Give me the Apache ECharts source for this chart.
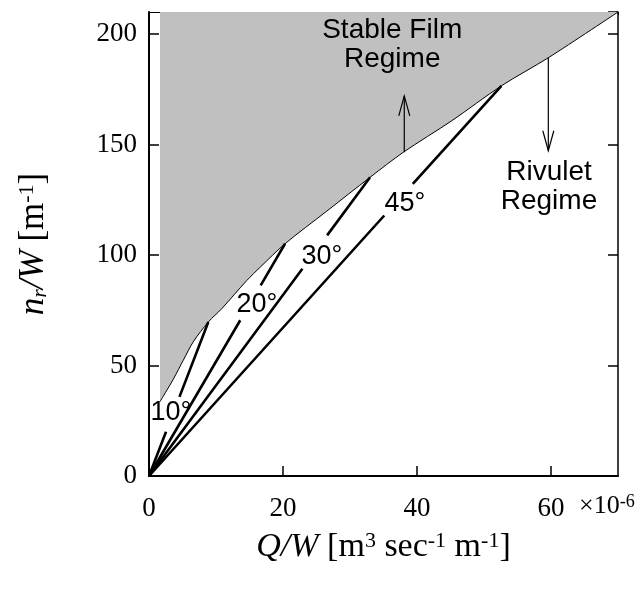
<!DOCTYPE html>
<html>
<head>
<meta charset="utf-8">
<script src="https://cdn.jsdelivr.net/npm/echarts@6/dist/echarts.min.js"></script>
<style>html,body{margin:0;padding:0;background:#fff;}#c{width:639px;height:594px;}</style>
</head>
<body>
<div id="c"></div>
<script>
// ---- data ----
const xTicks = [0, 20, 40, 60];
const yTicks = [0, 50, 100, 150, 200];
const boundaryX = [1.64, 2.6, 3.63, 5.12, 6.6, 8.85, 10.85, 14.6, 16.6, 20.3, 26.5, 33.0, 37.95, 45.2, 52.6, 59.66, 70];
const boundaryY = [33.6, 38.5, 43.8, 52.4, 60.7, 69.7, 75.7, 88.5, 94.5, 105.1, 119.8, 135.2, 146.5, 160.8, 176.6, 189.4, 210];
const angleNames = ['10°', '20°', '30°', '45°'];
const angleEndX = [8.85, 20.3, 33.0, 52.6];
const angleEndY = [69.7, 105.1, 135.2, 176.6];
const angleGapLo = [20.0, 70.5, 93.8, 117.9];
const angleGapHi = [35.8, 86.3, 108.9, 132.2];
const angleLabelX = [3.28, 16.1, 25.8, 38.2];
const angleLabelY = [28.9, 77.7, 99.2, 123.3];
const regionNames = ['Stable Film\nRegime', 'Rivulet\nRegime'];
const regionX = [36.3, 59.7];
const regionY = [195.3, 130.7];
const arrowX = [38.1, 59.6];
const arrowFrom = [146.5, 189.4];
const arrowTo = [172, 147.2];

// ---- build ----
const boundaryData = boundaryX.map((x, i) => [x, boundaryY[i]]);
const angleSeries = angleNames.map((n, i) => {
  const s = angleEndY[i] / angleEndX[i];
  const lo = angleGapLo[i], hi = angleGapHi[i];
  return {
    type: 'line', name: n, symbol: 'none', silent: true, z: 5,
    connectNulls: false,
    lineStyle: { color: '#000', width: 2.6 },
    data: [[0, 0], [lo / s, lo], [(lo + hi) / 2 / s, null], [hi / s, hi], [angleEndX[i], angleEndY[i]]]
  };
});

const serif = 'Liberation Serif';
const sans = 'Liberation Sans';
const plainLabel = { show: true, position: 'inside', formatter: p => p.name, color: '#000',
  textBorderWidth: 0, textBorderColor: 'transparent', textShadowBlur: 0, opacity: 1,
  align: 'center', verticalAlign: 'middle', fontFamily: sans };

const option = {
  animation: false,
  backgroundColor: '#fff',
  grid: { left: 149, right: 21, top: 12, bottom: 118, containLabel: false },
  xAxis: [{
    type: 'value', min: 0, max: 70, interval: 20, position: 'bottom',
    axisLine: { onZero: false, lineStyle: { color: '#000', width: 2 } },
    axisTick: { inside: true, length: 10, lineStyle: { color: '#000', width: 1.5 } },
    splitLine: { show: false },
    axisLabel: { color: '#000', fontFamily: serif, fontSize: 27, margin: 19, showMaxLabel: false,
      formatter: v => xTicks.includes(v) ? String(v) : '' },
    name: '{i|Q/W} [m{sup|3} sec{sup|-1} m{sup|-1}]',
    nameLocation: 'middle', nameGap: 54,
    nameTextStyle: {
      color: '#000', fontFamily: serif, fontSize: 34,
      rich: {
        i: { fontFamily: serif, fontStyle: 'italic', fontSize: 34, color: '#000' },
        sup: { fontFamily: serif, fontSize: 22, color: '#000', verticalAlign: 'top' }
      }
    }
  }, {
    type: 'value', min: 0, max: 70, interval: 20, position: 'top',
    axisLine: { onZero: false, lineStyle: { color: '#000', width: 1 } },
    axisTick: { inside: true, length: 3, lineStyle: { color: '#000', width: 1 } },
    axisLabel: { show: false }, splitLine: { show: false }
  }],
  yAxis: [{
    type: 'value', min: 0, max: 210, interval: 50, position: 'left',
    axisLine: { onZero: false, lineStyle: { color: '#000', width: 2 } },
    axisTick: { inside: true, length: 10, lineStyle: { color: '#000', width: 1.5 } },
    splitLine: { show: false },
    axisLabel: { color: '#000', fontFamily: serif, fontSize: 27, margin: 12, showMaxLabel: false,
      formatter: v => yTicks.includes(v) ? String(v) : '' },
    name: '{i|n}{sub|r}{i|/W} [m{sup|-1}]',
    nameLocation: 'middle', nameRotate: 90, nameGap: 98,
    nameTextStyle: {
      color: '#000', fontFamily: serif, fontSize: 35,
      rich: {
        i: { fontFamily: serif, fontStyle: 'italic', fontSize: 35, color: '#000' },
        sub: { fontFamily: serif, fontStyle: 'italic', fontSize: 22, color: '#000', verticalAlign: 'bottom' },
        sup: { fontFamily: serif, fontSize: 22, color: '#000', verticalAlign: 'top' }
      }
    }
  }, {
    type: 'value', min: 0, max: 210, interval: 50, position: 'right',
    axisLine: { onZero: false, lineStyle: { color: '#000', width: 1.5 } },
    axisTick: { inside: true, length: 10, lineStyle: { color: '#000', width: 1.5 } },
    axisLabel: { show: false }, splitLine: { show: false }
  }],
  series: [
    {
      type: 'line', name: 'boundary', symbol: 'none', smooth: 0.3, silent: true, z: 2,
      lineStyle: { color: '#000', width: 1 },
      areaStyle: { color: '#c0c0c0', opacity: 1, origin: 'end' },
      data: boundaryData
    },
    ...angleSeries,
    {
      type: 'scatter', name: 'angleLabels', symbolSize: 0, silent: true, z: 6,
      itemStyle: { color: '#000' },
      data: angleNames.map((n, i) => ({ name: n, value: [angleLabelX[i], angleLabelY[i]] })),
      label: Object.assign({}, plainLabel, { fontSize: 27 })
    },
    {
      type: 'scatter', name: 'regionLabels', symbolSize: 0, silent: true, z: 6,
      itemStyle: { color: '#000' },
      data: regionNames.map((n, i) => ({ name: n, value: [regionX[i], regionY[i]] })),
      label: Object.assign({}, plainLabel, { fontSize: 28, lineHeight: 29 })
    },
    {
      type: 'custom', name: 'arrows', silent: true, z: 6,
      data: arrowX.map((x, i) => [x, arrowFrom[i], arrowTo[i]]),
      renderItem: (params, api) => {
        const a = api.coord([api.value(0), api.value(1)]);
        const b = api.coord([api.value(0), api.value(2)]);
        const dir = b[1] < a[1] ? 1 : -1;
        const hl = 20, hw = 5.5;
        return {
          type: 'group',
          children: [
            { type: 'line', shape: { x1: a[0], y1: a[1], x2: b[0], y2: b[1] }, style: { stroke: '#000', lineWidth: 1.2 } },
            { type: 'polyline', shape: { points: [[b[0] - hw, b[1] + dir * hl], [b[0], b[1]], [b[0] + hw, b[1] + dir * hl]] },
              style: { stroke: '#000', lineWidth: 1.2, fill: null } }
          ]
        };
      }
    }
  ],
  graphic: [{
    type: 'text', left: 579, top: 493, silent: true,
    style: {
      text: '×10{sup|-6}', fill: '#000', font: '26px "Liberation Serif"',
      rich: { sup: { fontSize: 18, fontFamily: serif, verticalAlign: 'top', fill: '#000' } }
    }
  }]
};

const chart = echarts.init(document.getElementById('c'), null, { renderer: 'canvas' });
chart.setOption(option);
</script>
</body>
</html>
